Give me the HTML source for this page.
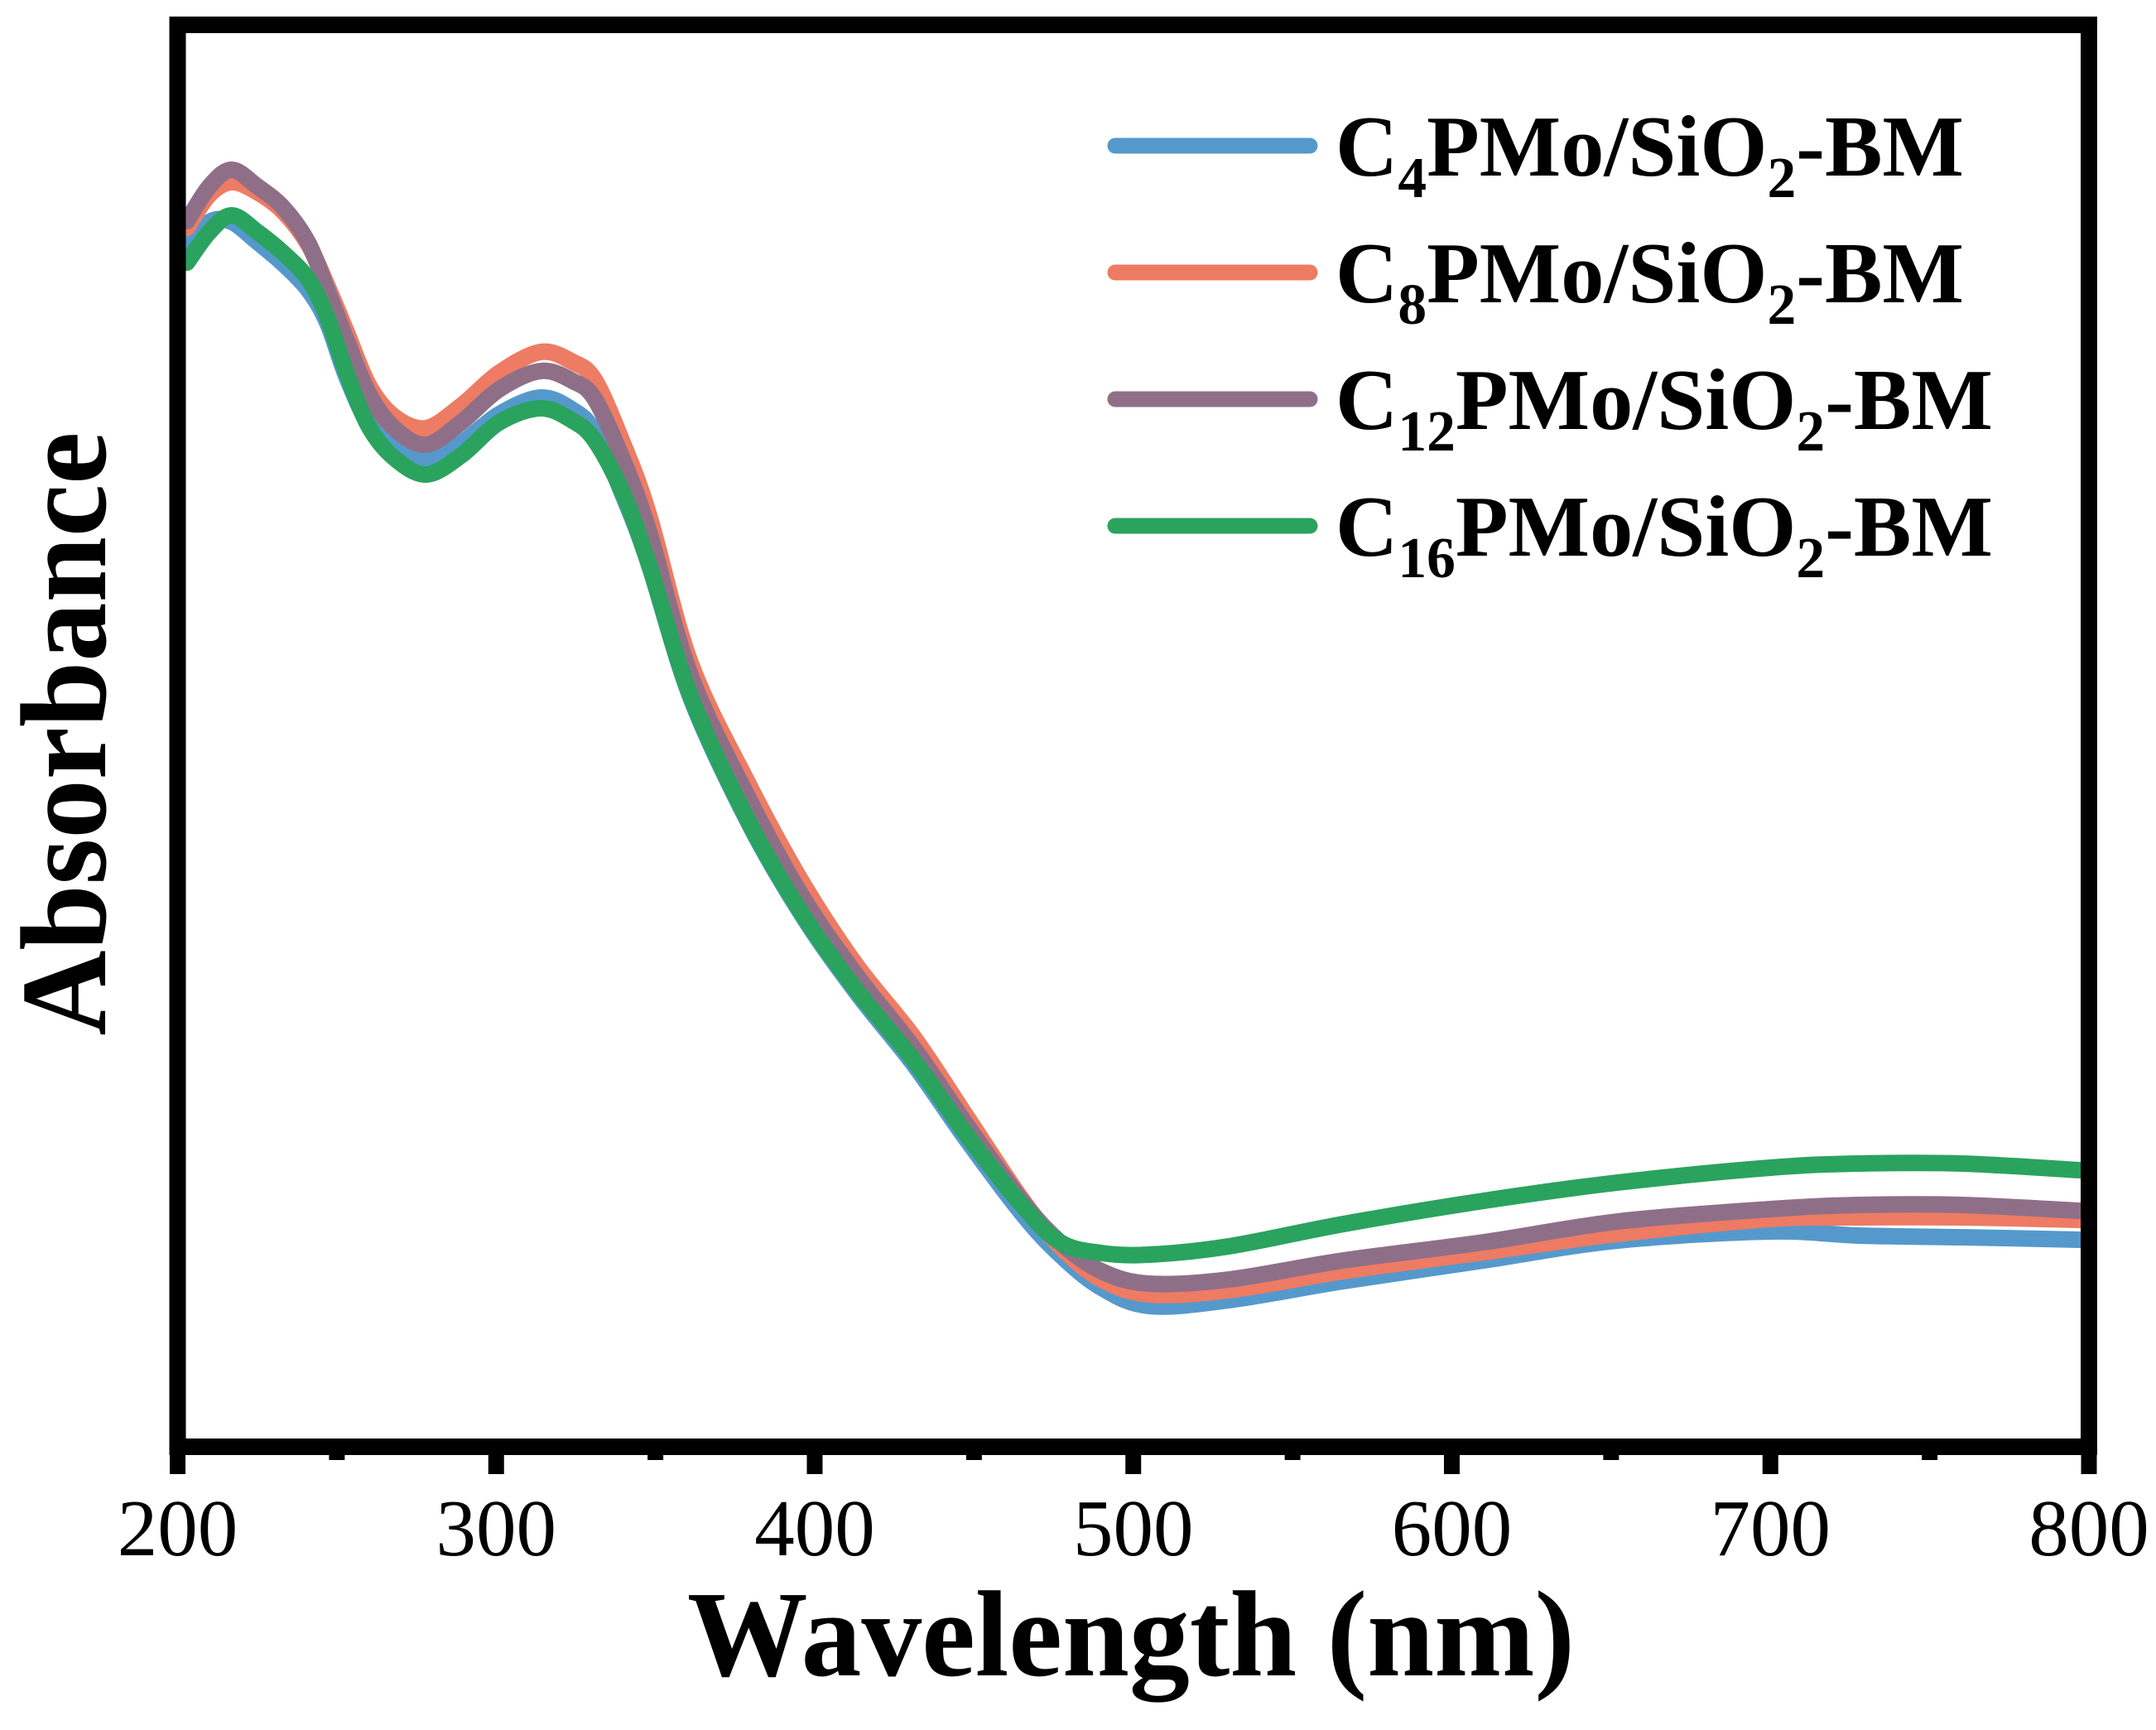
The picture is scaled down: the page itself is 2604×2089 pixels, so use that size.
<!DOCTYPE html>
<html>
<head>
<meta charset="utf-8">
<style>
html,body{margin:0;padding:0;background:#fff;}
svg{display:block;}
text{font-family:"Liberation Serif","Times New Roman",serif;fill:#000;}
</style>
</head>
<body>
<svg id="chart" width="2604" height="2089" viewBox="0 0 2604 2089" xmlns="http://www.w3.org/2000/svg">
  <defs>
    <clipPath id="plotClip"><rect x="224" y="40" width="2289" height="1697"/></clipPath>
  </defs>
  <g id="series" clip-path="url(#plotClip)"></g>
  <g id="axes"></g>
  <text x="1366" y="2023" text-anchor="middle" font-size="148" font-weight="bold" textLength="1072" lengthAdjust="spacingAndGlyphs">Wavelength (nm)</text>
  <text transform="translate(127,886) rotate(-90)" text-anchor="middle" font-size="148" font-weight="bold" textLength="729" lengthAdjust="spacingAndGlyphs">Absorbance</text>
  <g id="legend"></g>
</svg>
<script>
const wavelengths = [203,210,217,225,233,241,247,253,260,268,278,289,301,314,324,331,340,348,361,379,396,413,431,448,465,477,490,505,530,566,610,652,700,728,760,797];
const c4Values  = [1.447,1.479,1.479,1.455,1.429,1.397,1.357,1.292,1.235,1.207,1.194,1.212,1.247,1.267,1.252,1.225,1.147,1.065,0.905,0.755,0.642,0.549,0.462,0.369,0.282,0.232,0.192,0.170,0.177,0.200,0.225,0.249,0.260,0.255,0.253,0.250];
const c8Values  = [1.472,1.512,1.527,1.515,1.492,1.452,1.402,1.347,1.282,1.244,1.230,1.257,1.297,1.322,1.310,1.288,1.210,1.125,0.947,0.802,0.682,0.582,0.495,0.397,0.299,0.242,0.202,0.184,0.189,0.212,0.235,0.257,0.275,0.277,0.277,0.274];
const c12Values = [1.480,1.522,1.542,1.522,1.497,1.454,1.397,1.337,1.272,1.230,1.210,1.237,1.277,1.299,1.287,1.265,1.190,1.105,0.932,0.785,0.665,0.570,0.482,0.387,0.297,0.247,0.212,0.197,0.202,0.225,0.247,0.272,0.287,0.292,0.292,0.285];
const c16Values = [1.430,1.467,1.487,1.467,1.442,1.410,1.364,1.297,1.232,1.194,1.174,1.197,1.237,1.254,1.239,1.215,1.150,1.065,0.907,0.757,0.644,0.552,0.467,0.375,0.292,0.247,0.234,0.232,0.242,0.269,0.297,0.319,0.337,0.342,0.342,0.334];
const seriesNames = ["C4","C8","C12","C16"];
const seriesColors = ["#5599cc","#ee7b63","#8f6f88","#2aa35e"];
const xTickLabels = ["200","300","400","500","600","700","800"];
const xTickValues = [200,300,400,500,600,700,800];
const xMinorValues = [250,350,450,550,650,750];

const NS = "http://www.w3.org/2000/svg";
const X0 = 214.5, X1 = 2523, W0 = 200, W1 = 800;
const Y0 = 1747;
function xScale(w){ return X0 + (w - W0) * (X1 - X0) / (W1 - W0); }
function yScale(a){ return Y0 - a * 1000; }

function smoothPath(pts){
  let d = "M" + pts[0][0].toFixed(1) + "," + pts[0][1].toFixed(1);
  for (let i = 0; i < pts.length - 1; i++) {
    const p0 = pts[i-1] || pts[i], p1 = pts[i], p2 = pts[i+1], p3 = pts[i+2] || p2;
    const c1x = p1[0] + (p2[0]-p0[0])/6, c1y = p1[1] + (p2[1]-p0[1])/6;
    const c2x = p2[0] - (p3[0]-p1[0])/6, c2y = p2[1] - (p3[1]-p1[1])/6;
    d += " C" + c1x.toFixed(1) + "," + c1y.toFixed(1) + " " + c2x.toFixed(1) + "," + c2y.toFixed(1) + " " + p2[0].toFixed(1) + "," + p2[1].toFixed(1);
  }
  return d;
}

const seriesG = document.getElementById("series");
const allValues = [c4Values, c8Values, c12Values, c16Values];
allValues.forEach(function(vals, i){
  const pts = wavelengths.map(function(w, j){ return [xScale(w), yScale(vals[j])]; });
  const p = document.createElementNS(NS, "path");
  p.setAttribute("d", smoothPath(pts));
  p.setAttribute("fill", "none");
  p.setAttribute("stroke", seriesColors[i]);
  p.setAttribute("stroke-width", "20");
  p.setAttribute("stroke-linejoin", "round");
  p.setAttribute("stroke-linecap", "round");
  
  
  seriesG.appendChild(p);
});

const axesG = document.getElementById("axes");
const frame = document.createElementNS(NS, "rect");
frame.setAttribute("x", "214.5"); frame.setAttribute("y", "30");
frame.setAttribute("width", String(2523 - 214.5)); frame.setAttribute("height", String(1747 - 30));
frame.setAttribute("fill", "none"); frame.setAttribute("stroke", "#000"); frame.setAttribute("stroke-width", "20");


axesG.appendChild(frame);

xTickValues.forEach(function(v, i){
  const x = xScale(v);
  const t = document.createElementNS(NS, "line");
  t.setAttribute("x1", x); t.setAttribute("x2", x);
  t.setAttribute("y1", "1740"); t.setAttribute("y2", "1780");
  t.setAttribute("stroke", "#000"); t.setAttribute("stroke-width", "19");
  
  
  axesG.appendChild(t);
  const lbl = document.createElementNS(NS, "text");
  lbl.setAttribute("x", x); lbl.setAttribute("y", "1878");
  lbl.setAttribute("text-anchor", "middle"); lbl.setAttribute("font-size", "97");
  lbl.textContent = xTickLabels[i];
  
  
  axesG.appendChild(lbl);
});
xMinorValues.forEach(function(v){
  const x = xScale(v);
  const t = document.createElementNS(NS, "line");
  t.setAttribute("x1", x); t.setAttribute("x2", x);
  t.setAttribute("y1", "1740"); t.setAttribute("y2", "1763");
  t.setAttribute("stroke", "#000"); t.setAttribute("stroke-width", "19");
  
  
  axesG.appendChild(t);
});

const legendG = document.getElementById("legend");
const legendSubs = ["4","8","12","16"];
const legendLen = [759, 759, 794, 794];
seriesNames.forEach(function(n, i){
  const cy = 176 + i * 153;
  const ln = document.createElementNS(NS, "line");
  ln.setAttribute("x1", "1347"); ln.setAttribute("x2", "1582");
  ln.setAttribute("y1", cy); ln.setAttribute("y2", cy);
  ln.setAttribute("stroke", seriesColors[i]); ln.setAttribute("stroke-width", "19");
  ln.setAttribute("stroke-linecap", "round");
  
  
  legendG.appendChild(ln);
  const tx = document.createElementNS(NS, "text");
  tx.setAttribute("x", "1613"); tx.setAttribute("y", cy + 36);
  tx.setAttribute("font-size", "105"); tx.setAttribute("font-weight", "bold");
  tx.setAttribute("textLength", legendLen[i]); tx.setAttribute("lengthAdjust", "spacingAndGlyphs");
  tx.innerHTML = 'C<tspan font-size="70" dy="26">' + legendSubs[i] + '</tspan><tspan dy="-26">PMo/SiO</tspan><tspan font-size="70" dy="26">2</tspan><tspan dy="-26">-BM</tspan>';
  
  
  legendG.appendChild(tx);
});
</script>
</body>
</html>
